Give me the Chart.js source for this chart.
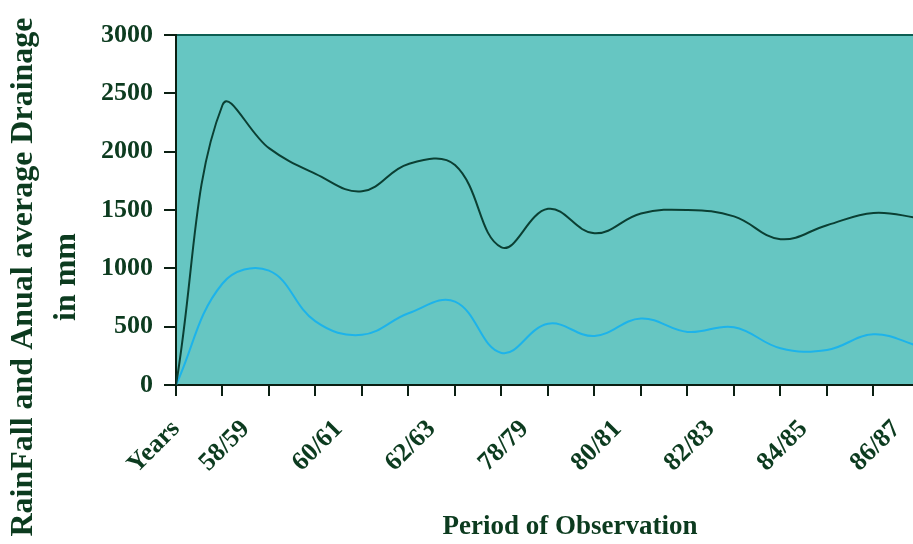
<!DOCTYPE html>
<html lang="en">
<head>
<meta charset="UTF-8">
<title>RainFall and Drainage</title>
<script src="https://cdn.jsdelivr.net/npm/chart.js"></script>
<style>
    body { margin: 0; background: #ffffff; }
    #wrap { width: 913px; height: 544px; }
</style>
</head>
<body>
<div id="wrap"><canvas id="chart"></canvas></div>
<script>
    // values, one point per tick mark
    const periodLabels = ['Years', '58/59', '60/61', '62/63', '78/79', '80/81', '82/83', '84/85', '86/87'];
    const rainfall = [0, 2400, 2030, 1810, 1660, 1895, 1885, 1180, 1510, 1300, 1470, 1500, 1445, 1250, 1370, 1475, 1430];
    const drainage = [0, 870, 980, 545, 430, 615, 715, 275, 525, 420, 570, 455, 495, 315, 300, 435, 330];
    const yTicks = [0, 500, 1000, 1500, 2000, 2500, 3000];

    const serif = "'Liberation Serif', 'Times New Roman', serif";
    const textColor = '#0c3b1f';
    const axisColor = '#0a1f12';

    // period labels sit between the tick marks (except "Years" on the first)
    const labelAt = {};
    periodLabels.forEach((l, k) => { labelAt[k === 0 ? 0 : 2 * k - 0.5] = l; });

    const plotBg = {
        id: 'plotBg',
        beforeDraw(chart) {
            const { ctx, chartArea: a } = chart;
            ctx.save();
            ctx.fillStyle = '#66c6c2';
            ctx.fillRect(a.left, a.top, a.right - a.left, a.bottom - a.top);
            ctx.strokeStyle = '#0d5e52';
            ctx.lineWidth = 2;
            ctx.beginPath();
            ctx.moveTo(a.left, a.top);
            ctx.lineTo(a.right, a.top);
            ctx.stroke();
            ctx.restore();
        }
    };

    const axisTitles = {
        id: 'axisTitles',
        afterDraw(chart) {
            const ctx = chart.ctx;
            ctx.save();
            ctx.fillStyle = textColor;
            ctx.textAlign = 'center';
            ctx.textBaseline = 'alphabetic';
            ctx.font = 'bold 32px ' + serif;
            ctx.translate(0, 277);
            ctx.rotate(-Math.PI / 2);
            ctx.fillText('RainFall and Anual average Drainage', 0, 32);
            ctx.fillText('in mm', 0, 75);
            ctx.restore();

            ctx.save();
            ctx.fillStyle = textColor;
            ctx.textAlign = 'center';
            ctx.font = 'bold 27px ' + serif;
            ctx.fillText('Period of Observation', 570, 534);
            ctx.restore();
        }
    };

    const chart = new Chart(document.getElementById('chart'), {
        type: 'line',
        data: {
            datasets: [{
                label: 'RainFall',
                data: rainfall.map((v, i) => ({ x: i, y: v })),
                borderColor: '#0b3f33',
                borderWidth: 2,
                pointRadius: 0,
                tension: 0.4,
                fill: false
            }, {
                label: 'Drainage',
                data: drainage.map((v, i) => ({ x: i, y: v })),
                borderColor: '#1db3ea',
                borderWidth: 2,
                pointRadius: 0,
                tension: 0.4,
                fill: false
            }]
        },
        options: {
            responsive: true,
            maintainAspectRatio: false,
            animation: false,
            layout: { padding: { top: 35, left: 0, right: 0, bottom: 0 } },
            plugins: { legend: { display: false }, tooltip: { enabled: false } },
            scales: {
                x: {
                    type: 'linear',
                    min: 0,
                    max: 15.85,
                    afterBuildTicks(scale) {
                        const vals = [];
                        for (let i = 0; i <= 15; i++) vals.push(i);
                        Object.keys(labelAt).forEach(k => { if (+k % 1 !== 0) vals.push(+k); });
                        vals.sort((a, b) => a - b);
                        scale.ticks = vals.map(v => ({ value: v }));
                    },
                    afterFit(scale) {
                        scale.height = 159;
                        scale.paddingRight = 0;
                    },
                    grid: {
                        drawOnChartArea: false,
                        drawTicks: true,
                        tickLength: 11,
                        lineWidth: 2,
                        tickColor: c => (c.tick && Number.isInteger(c.tick.value)) ? axisColor : 'rgba(0,0,0,0)'
                    },
                    border: { display: true, color: axisColor, width: 2 },
                    ticks: {
                        autoSkip: false,
                        minRotation: 45,
                        maxRotation: 45,
                        padding: 18,
                        color: textColor,
                        font: { family: serif, size: 26, weight: 'bold' },
                        callback: v => labelAt[v] !== undefined ? labelAt[v] : ''
                    }
                },
                y: {
                    min: 0,
                    max: 3000,
                    afterBuildTicks(scale) { scale.ticks = yTicks.map(v => ({ value: v })); },
                    afterFit(scale) { scale.width = 176; },
                    grid: {
                        drawOnChartArea: false,
                        drawTicks: true,
                        tickLength: 12,
                        lineWidth: 2,
                        tickColor: axisColor
                    },
                    border: { display: true, color: axisColor, width: 2 },
                    ticks: {
                        padding: 11,
                        color: textColor,
                        font: { family: serif, size: 26, weight: 'bold' },
                        callback: v => String(v)
                    }
                }
            }
        },
        plugins: [plotBg, axisTitles]
    });
</script>
</body>
</html>
